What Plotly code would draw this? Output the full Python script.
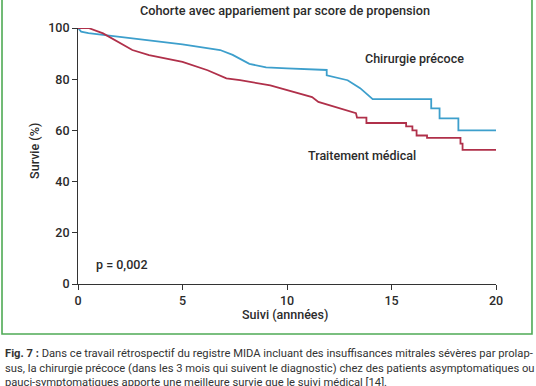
import plotly.graph_objects as go

# Kaplan-Meier curves (time in years, survival %)
chir_t = [0, 0.15, 0.5, 1.5, 3, 5, 6.8, 7.4, 8.2, 9.0, 10, 11.9, 11.9, 12.9, 13.5, 14.1,
          16.9, 16.9, 17.3, 17.3, 18.2, 18.2, 20]
chir_s = [100, 98.6, 98.0, 97.0, 95.5, 93.6, 91.4, 89.5, 86.0, 84.6, 84.2, 83.6, 81.5, 79.6, 76.5, 72.2,
          72.2, 68.6, 68.6, 64.7, 64.7, 60.0, 60.0]

med_t = [0, 0.5, 1.2, 1.9, 2.6, 3.4, 5.0, 6.2, 7.1, 7.75, 8.7, 9.2, 11.2, 11.5, 13.3, 13.35,
         13.8, 13.8, 15.7, 15.7, 16.0, 16.0, 16.2, 16.2, 16.7, 16.7, 18.3, 18.3, 18.4, 18.4, 20]
med_s = [100, 100, 97.9, 94.6, 91.4, 89.4, 86.8, 83.5, 80.3, 79.6, 78.3, 77.6, 73.0, 71.1, 66.7, 65.0,
         65.0, 62.9, 62.9, 61.6, 61.6, 60.0, 60.0, 58.0, 58.0, 57.1, 57.1, 54.8, 54.8, 52.4, 52.4]

x_ticks = [0, 5, 10, 15, 20]
y_ticks = [0, 20, 40, 60, 80, 100]

title = "Cohorte avec appariement par score de propension"
label_chir = "Chirurgie précoce"
label_med = "Traitement médical"
p_text = "p = 0,002"
x_title = "Suivi (annnées)"
y_title = "Survie (%)"
caption = ("<b>Fig. 7 :</b> Dans ce travail rétrospectif du registre MIDA incluant des insuffisances mitrales sévères par prolap-<br>"
           "sus, la chirurgie précoce (dans les 3 mois qui suivent le diagnostic) chez des patients asymptomatiques ou<br>"
           "pauci-symptomatiques apporte une meilleure survie que le suivi médical [14].")

BLUE = "#3d9fcc"
RED = "#b0304a"
TXT = "#2b2b2b"
GREEN = "#4faa55"
FONT = "Roboto"

fig = go.Figure()
fig.add_trace(go.Scatter(x=chir_t, y=chir_s, mode="lines",
                         line=dict(color=BLUE, width=1.8), showlegend=False))
fig.add_trace(go.Scatter(x=med_t, y=med_s, mode="lines",
                         line=dict(color=RED, width=1.8), showlegend=False))

fig.update_layout(
    width=536, height=386,
    margin=dict(l=78, r=40, t=28, b=102, autoexpand=False),
    paper_bgcolor="white", plot_bgcolor="white",
    font=dict(family=FONT, color=TXT, size=12),
    xaxis=dict(range=[0, 20], tickvals=x_ticks, showgrid=False, zeroline=False,
               showline=True, linecolor="#333", linewidth=1, ticks="outside",
               ticklen=5, tickcolor="#333", tickfont=dict(size=12.5, weight=500), fixedrange=True),
    yaxis=dict(range=[0, 100], tickvals=y_ticks, showgrid=False, zeroline=False,
               showline=True, linecolor="#333", linewidth=1, ticks="outside",
               ticklen=5, tickcolor="#333", tickfont=dict(size=12.5, weight=500), fixedrange=True),
)

f = dict(size=12.5, color=TXT, family=FONT, weight=500)
ann = [
    dict(text=title, xref="paper", yref="paper", x=0.495, y=1.0, yshift=18,
         showarrow=False, font=dict(size=12.7, color=TXT, family=FONT, weight=500),
         xanchor="center", yanchor="middle"),
    dict(text=label_chir, x=16.1, y=88.2, xref="x", yref="y", showarrow=False, font=f),
    dict(text=label_med, x=13.6, y=50.2, xref="x", yref="y", showarrow=False, font=f),
    dict(text=p_text, x=2.06, y=7.5, xref="x", yref="y", showarrow=False, font=f),
    dict(text=x_title, xref="paper", yref="paper", x=0.495, y=0, yshift=-30,
         showarrow=False, font=f, yanchor="middle"),
    dict(text=y_title, xref="paper", yref="paper", x=0, xshift=-43, y=0.52,
         textangle=-90, showarrow=False, font=f, xanchor="center"),
    dict(text=caption, xref="paper", yref="paper", x=0, xshift=-75, y=0, yshift=-61,
         xanchor="left", yanchor="top", align="left", showarrow=False,
         font=dict(size=11.2, color="#333", family=FONT)),
]
fig.update_layout(annotations=ann)

# green frame around the chart (top edge is above the visible page)
fig.add_shape(type="path", xref="paper", yref="paper",
              path="M -0.1818 1.3 L -0.1818 -0.1953 L 1.0861 -0.1953 L 1.0861 1.3",
              line=dict(color=GREEN, width=1.6))

fig.write_html("out.html", config={"displayModeBar": False},
               post_script="document.body.style.margin='0';document.body.style.overflow='hidden';")
